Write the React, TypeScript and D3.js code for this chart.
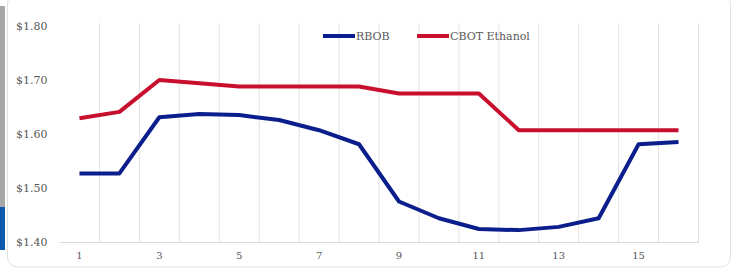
import React, { useRef, useEffect } from 'react'
import * as d3 from 'd3'

const days = d3.range(1, 17).map(String)
const rbob = [1.527, 1.527, 1.631, 1.637, 1.635, 1.626, 1.607, 1.581, 1.475, 1.444, 1.424, 1.422, 1.428, 1.444, 1.581, 1.585]
const ethanol = [1.629, 1.641, 1.700, 1.694, 1.688, 1.688, 1.688, 1.688, 1.675, 1.675, 1.675, 1.607, 1.607, 1.607, 1.607, 1.607]
const yTicks = [1.4, 1.5, 1.6, 1.7, 1.8]
const seriesNames = ['RBOB', 'CBOT Ethanol']
const colors = ['#0b1e8c', '#c8102e']

const W = 738
const H = 271
const FONT = '"DejaVu Serif", serif'

const App = () => {
  const svgRef = useRef<SVGSVGElement>(null)

  useEffect(() => {
    const svg = d3.select(svgRef.current)
    svg.selectAll('*').remove()

    const margin = { top: 26, right: 39.5, bottom: 29, left: 59.5 }

    // left edge decoration (gray + blue strip) and card
    svg.append('rect').attr('x', 0).attr('y', 6).attr('width', 5).attr('height', 201).attr('fill', '#a7a7aa')
    svg.append('rect').attr('x', 0).attr('y', 207).attr('width', 5).attr('height', 43).attr('fill', '#0b5aab')
    svg.append('rect')
      .attr('x', 7.5).attr('y', -6).attr('width', 723).attr('height', 273)
      .attr('rx', 10).attr('fill', '#fff').attr('stroke', '#e0e0e0')

    const x = d3.scaleBand(days, [margin.left, W - margin.right]).padding(0)
    const y = d3.scaleLinear([1.4, 1.8], [H - margin.bottom, margin.top])
    const cx = (d: string) => (x(d) as number) + x.bandwidth() / 2

    // vertical gridlines at category boundaries
    const bounds = days.map(d => x(d) as number).concat([W - margin.right])
    svg.append('g')
      .selectAll('line')
      .data(bounds.slice(1))
      .join('line')
      .attr('x1', d => d).attr('x2', d => d)
      .attr('y1', y(1.8) - 3).attr('y2', y(1.4))
      .attr('stroke', '#e3e3e3')

    // x axis
    svg.append('g')
      .attr('transform', `translate(0,${y(1.4)})`)
      .call(d3.axisBottom(x).tickSize(0).tickPadding(10).tickFormat((d, i) => (i % 2 === 0 ? d : '')))
      .call(g => g.select('.domain').attr('stroke', '#d9d9d9'))
      .call(g => g.selectAll('text').attr('font-family', FONT).attr('font-size', 10).attr('fill', '#595959'))

    // y axis
    svg.append('g')
      .attr('transform', `translate(${margin.left - 12},0)`)
      .call(d3.axisLeft(y).tickValues(yTicks).tickSize(0).tickPadding(0).tickFormat(d => `$${(+d).toFixed(2)}`))
      .call(g => g.select('.domain').remove())
      .call(g => g.selectAll('text').attr('font-family', FONT).attr('font-size', 11).attr('fill', '#595959'))

    const line = d3.line<number>()
      .x((_, i) => cx(days[i]))
      .y(d => y(d))

    ;[rbob, ethanol].forEach((vals, k) => {
      svg.append('path')
        .datum(vals)
        .attr('d', line)
        .attr('fill', 'none')
        .attr('stroke', colors[k])
        .attr('stroke-width', 4)
        .attr('stroke-linejoin', 'round')
    })

    // legend
    const lx = [323, 417]
    const legend = svg.append('g')
    seriesNames.forEach((name, k) => {
      legend.append('line')
        .attr('x1', lx[k]).attr('x2', lx[k] + 32)
        .attr('y1', 36).attr('y2', 36)
        .attr('stroke', colors[k]).attr('stroke-width', 4)
      legend.append('text')
        .attr('x', lx[k] + 33).attr('y', 40)
        .attr('font-family', FONT).attr('font-size', 11)
        .attr('fill', '#595959')
        .text(name)
    })
  }, [])

  return (
    <svg ref={svgRef} width={W} height={H} style={{ position: 'absolute', left: 0, top: 0 }} />
  )
}

export default App
